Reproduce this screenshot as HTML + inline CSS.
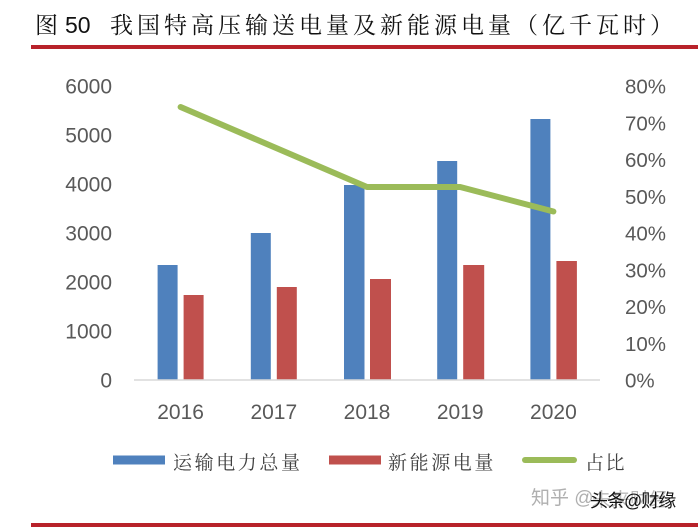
<!DOCTYPE html>
<html>
<head>
<meta charset="utf-8">
<style>
  html, body { margin: 0; padding: 0; background: #ffffff; }
  body { width: 698px; height: 527px; overflow: hidden; }
  svg { display: block; }
  .cjk { font-family: "Liberation Serif", "Noto Serif CJK SC", serif; }
  .num { font-family: "Liberation Sans", "Noto Sans CJK SC", sans-serif; }
</style>
</head>
<body>
<svg width="698" height="527" viewBox="0 0 698 527" xmlns="http://www.w3.org/2000/svg">
  <rect x="0" y="0" width="698" height="527" fill="#ffffff"/>

  <!-- Title -->
  <text x="35" y="33" class="cjk" font-size="23" fill="#111">图</text>
  <text x="65" y="33" class="num" font-size="23" fill="#111">50</text>
  <text x="110" y="33" class="cjk" font-size="23" fill="#111" style="letter-spacing:4px">我国特高压输送电量及新能源电量（亿千瓦时）</text>
  <rect x="31" y="45" width="667" height="4" fill="#b8222a"/>

  <!-- Left axis labels -->
  <g class="num" font-size="21" fill="#595959" text-anchor="end">
    <text x="112" y="93.5">6000</text>
    <text x="112" y="142.5">5000</text>
    <text x="112" y="191.5">4000</text>
    <text x="112" y="240.5">3000</text>
    <text x="112" y="289.5">2000</text>
    <text x="112" y="338.5">1000</text>
    <text x="112" y="387.5">0</text>
  </g>

  <!-- Right axis labels -->
  <g class="num" font-size="20.5" fill="#595959" text-anchor="start">
    <text x="625" y="93.5">80%</text>
    <text x="625" y="130.25">70%</text>
    <text x="625" y="167">60%</text>
    <text x="625" y="203.75">50%</text>
    <text x="625" y="240.5">40%</text>
    <text x="625" y="277.25">30%</text>
    <text x="625" y="314">20%</text>
    <text x="625" y="350.75">10%</text>
    <text x="625" y="387.5">0%</text>
  </g>

  <!-- Bars: blue -->
  <g fill="#4f81bd">
    <rect x="157.6" y="265" width="20" height="115"/>
    <rect x="250.8" y="233" width="20" height="147"/>
    <rect x="344" y="185" width="20.5" height="195"/>
    <rect x="437.2" y="161" width="20" height="219"/>
    <rect x="530.4" y="119" width="20" height="261"/>
  </g>
  <!-- Bars: red -->
  <g fill="#c0504d">
    <rect x="183.6" y="295" width="20" height="85"/>
    <rect x="276.8" y="287" width="20" height="93"/>
    <rect x="370" y="279" width="21" height="101"/>
    <rect x="463.2" y="265" width="21" height="115"/>
    <rect x="556.4" y="261" width="20.5" height="119"/>
  </g>

  <!-- Axis line -->
  <line x1="134" y1="380" x2="600" y2="380" stroke="#d9d9d9" stroke-width="1.6"/>

  <!-- Ratio line -->
  <polyline points="180.6,107 273.8,147 367,187 460.2,187 553.4,211.5" fill="none" stroke="#9bbb59" stroke-width="6" stroke-linecap="round" stroke-linejoin="round"/>

  <!-- X labels -->
  <g class="num" font-size="21" fill="#595959" text-anchor="middle">
    <text x="180.6" y="419">2016</text>
    <text x="273.8" y="419">2017</text>
    <text x="367" y="419">2018</text>
    <text x="460.2" y="419">2019</text>
    <text x="553.4" y="419">2020</text>
  </g>

  <!-- Legend -->
  <rect x="113" y="455.5" width="52" height="9" fill="#4f81bd"/>
  <text x="173" y="469" class="cjk" font-size="19" fill="#404040" style="letter-spacing:2.6px">运输电力总量</text>
  <rect x="329" y="455.5" width="52" height="9" fill="#c0504d"/>
  <text x="388" y="469" class="cjk" font-size="19" fill="#404040" style="letter-spacing:2.6px">新能源电量</text>
  <line x1="525" y1="460" x2="574" y2="460" stroke="#9bbb59" stroke-width="6" stroke-linecap="round"/>
  <text x="585" y="469" class="cjk" font-size="19" fill="#404040" style="letter-spacing:1.5px">占比</text>

  <!-- Watermark -->
  <text x="531" y="504" font-family="'Liberation Sans','Noto Sans CJK SC',sans-serif" font-size="19" fill="#b0b0b0">知乎 @</text>
  <text x="592" y="506" font-family="'Liberation Sans','Noto Sans CJK SC',sans-serif" font-size="19" fill="#bbbbbb">未来财经</text>
  <text x="590" y="507" font-family="'Liberation Sans','Noto Sans CJK SC',sans-serif" font-size="18" fill="#111" style="letter-spacing:-1px">头条@财缘</text>

  <!-- Bottom red line -->
  <rect x="31" y="523" width="667" height="4" fill="#b8222a"/>
</svg>
</body>
</html>
